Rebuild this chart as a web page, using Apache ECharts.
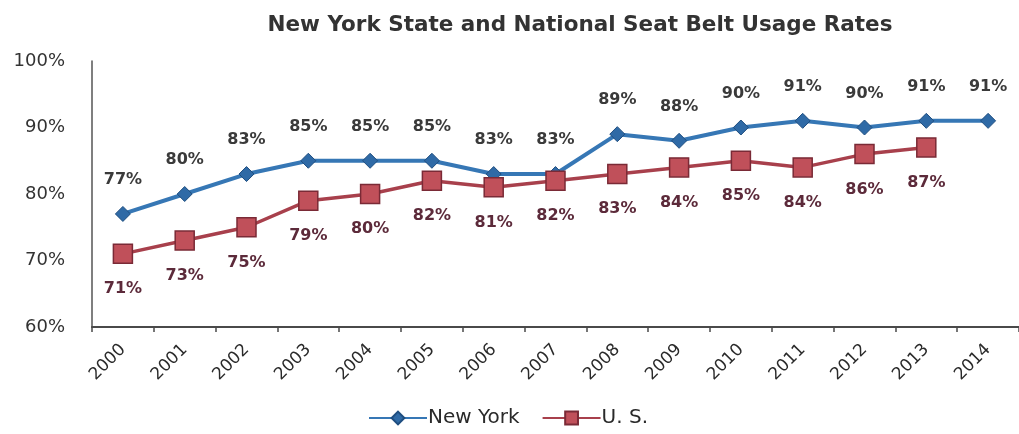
<!DOCTYPE html>
<html>
<head>
<meta charset="utf-8">
<script src="https://cdn.jsdelivr.net/npm/echarts@6/dist/echarts.min.js"></script>
<style>
  html, body { margin: 0; padding: 0; background: #fff; }
  #chart { width: 1019px; height: 434px; }
</style>
</head>
<body>
<div id="chart"></div>
<script>
// Seat belt usage rates, percent
const years = ['2000','2001','2002','2003','2004','2005','2006','2007','2008','2009','2010','2011','2012','2013','2014'];
const newYork = [77, 80, 83, 85, 85, 85, 83, 83, 89, 88, 90, 91, 90, 91, 91];
const unitedStates = [71, 73, 75, 79, 80, 82, 81, 82, 83, 84, 85, 84, 86, 87, null];

const chart = echarts.init(document.getElementById('chart'));
const pct = p => p.value + '%';
const FONT = 'DejaVu Sans';

chart.setOption({
  backgroundColor: '#ffffff',
  animation: false,
  title: {
    text: 'New York State and National Seat Belt Usage Rates',
    left: 575, textAlign: 'center', top: 9,
    textStyle: { fontFamily: FONT, fontWeight: 'bold', fontSize: 21.5, color: '#333333' }
  },
  legend: {
    bottom: 1, left: 363,
    itemWidth: 58, itemHeight: 16, itemGap: 22,
    textStyle: { fontFamily: FONT, fontSize: 20, color: '#2a2a2a', padding: [0, 0, 0, -4] },
    data: ['New York', 'U. S.']
  },
  grid: { left: 92, right: -8, top: 61, bottom: 107 },
  xAxis: {
    type: 'category',
    data: years,
    boundaryGap: true,
    axisLine: { lineStyle: { color: '#4a4a4a', width: 2 } },
    axisTick: { show: true, length: 5, lineStyle: { color: '#4a4a4a', width: 1.5 } },
    axisLabel: {
      rotate: 45, interval: 0, margin: 20,
      fontFamily: FONT, fontSize: 17, color: '#2a2a2a'
    }
  },
  yAxis: {
    type: 'value',
    min: 60, max: 100, interval: 10,
    axisLine: { show: true, lineStyle: { color: '#555555', width: 1.5 } },
    axisTick: { show: false },
    splitLine: { show: false },
    axisLabel: {
      formatter: '{value}%', margin: 27,
      fontFamily: FONT, fontSize: 18, color: '#333333'
    }
  },
  series: [
    {
      name: 'New York',
      type: 'line',
      data: newYork,
      symbol: 'diamond', symbolSize: 15,
      lineStyle: { color: '#3677b5', width: 4 },
      itemStyle: { color: '#2f6aa6', borderColor: '#1f4e80', borderWidth: 1 },
      label: {
        show: true, position: 'top', distance: 18, formatter: pct,
        fontFamily: FONT, fontWeight: 'bold', fontSize: 16, color: '#3a3a3a'
      }
    },
    {
      name: 'U. S.',
      type: 'line',
      data: unitedStates,
      symbol: 'rect', symbolSize: 19,
      lineStyle: { color: '#a8404c', width: 3.5 },
      itemStyle: { color: '#c0505a', borderColor: '#7a2a36', borderWidth: 1.5 },
      label: {
        show: true, position: 'bottom', distance: 17, formatter: pct,
        fontFamily: FONT, fontWeight: 'bold', fontSize: 16, color: '#5c2a3a'
      }
    }
  ]
});
</script>
</body>
</html>
